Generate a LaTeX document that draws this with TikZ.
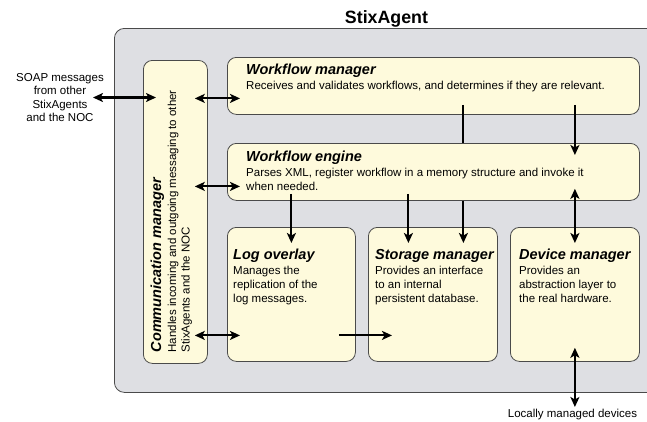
\documentclass[tikz,border=0pt]{standalone}
\usepackage{fontspec}
\setmainfont{Liberation Sans}
\usepackage{xcolor}
\usetikzlibrary{arrows.meta,calc,positioning}
\definecolor{fondgris}{HTML}{DEDFE3}
\definecolor{fondjaune}{HTML}{FEFADC}
\definecolor{bord}{HTML}{4A4A4A}

\begin{document}
\begin{tikzpicture}[x=1pt,y=-1pt]
% Styles
\tikzstyle{cadre}=[draw=bord,fill=fondgris,rounded corners=10pt,line width=0.8pt,anchor=north west,inner sep=0]
\tikzstyle{boite}=[draw=bord,fill=fondjaune,rounded corners=9pt,line width=0.8pt,anchor=north west,inner sep=0]
\tikzstyle{titre}=[anchor=base west,inner sep=0,font=\fontsize{14.5}{16}\selectfont\bfseries\itshape]
\tikzstyle{texte}=[anchor=north west,inner sep=0,align=left,font=\fontsize{11.5}{13.7}\selectfont]
\tikzstyle{fleche}=[-{Stealth[length=10pt,width=9pt,inset=2.5pt]},line width=2.1pt]
\tikzstyle{dfleche}=[{Stealth[length=10pt,width=9pt,inset=2.5pt]}-{Stealth[length=10pt,width=9pt,inset=2.5pt]},line width=2.1pt]
\tikzstyle{trait}=[line width=2.1pt]
% Cadre
\useasboundingbox (0,0) rectangle (647,421);
\clip (0,0) rectangle (647,421);
\node[anchor=base,inner sep=0,font=\fontsize{17.8}{20}\selectfont\bfseries] (nom) at (386.5,23) {StixAgent};
\node[cadre,minimum width=560pt,minimum height=364pt] (agent) at (114,28) {};
% Boites
\node[boite,minimum width=64pt,minimum height=303pt] (comm) at (143,60) {};
\node[boite,minimum width=412pt,minimum height=57pt] (wfm) at (227,57) {};
\node[boite,minimum width=412pt,minimum height=57pt] (wfe) at (227,143) {};
\node[boite,minimum width=128pt,minimum height=134pt] (log) at (227,227) {};
\node[boite,minimum width=129pt,minimum height=134pt] (sto) at (368,227) {};
\node[boite,minimum width=129pt,minimum height=134pt] (dev) at (510,227) {};
% Textes
\node[titre] (wfmT) at ($(wfm.north west)+(19,17)$) {Workflow manager};
\node[texte] (wfmB) at ($(wfmT.base west)+(0,6.5)$) {Receives and validates workflows, and determines if they are relevant.};
\node[titre] (wfeT) at ($(wfe.north west)+(19,18.5)$) {Workflow engine};
\node[texte] (wfeB) at ($(wfeT.base west)+(0,6.5)$) {Parses XML, register workflow in a memory structure and invoke it\\when needed.};
\node[titre] (logT) at ($(log.north west)+(6,32.3)$) {Log overlay};
\node[texte] (logB) at ($(logT.base west)+(0,7)$) {Manages the\\replication of the\\log messages.};
\node[titre] (stoT) at ($(sto.north west)+(7,32.3)$) {Storage manager};
\node[texte] (stoB) at ($(stoT.base west)+(0,7)$) {Provides an interface\\to an internal\\persistent database.};
\node[titre] (devT) at ($(dev.north west)+(9,32.3)$) {Device manager};
\node[texte] (devB) at ($(devT.base west)+(0,7)$) {Provides an\\abstraction layer to\\the real hardware.};
\node[titre,rotate=90] (commT) at ($(comm.south west)+(18,-11.3)$) {Communication manager};
\node[texte,rotate=90] (commB) at ($(commT.base west)+(6.5,0)$) {Handles incoming and outgoing messaging to other\\StixAgents and the NOC};
\node[inner sep=0,align=center,font=\fontsize{11.5}{13.6}\selectfont] (soap) at (60,97.5) {SOAP messages\\from other\\StixAgents\\and the NOC};
\node[anchor=base,inner sep=0,font=\fontsize{11.5}{13.6}\selectfont] (locaux) at (572.5,417.5) {Locally managed devices};
% Fleches
\draw[dfleche] ([xshift=-11pt]soap.east) -- ($(comm.west |- soap.east)+(13,0)$);
\draw[dfleche] ($(comm.east |- wfm.west)+(-13,12.5)$) -- ($(wfm.west)+(13,12.5)$);
\draw[dfleche] ($(comm.east |- wfe.west)+(-13,14.5)$) -- ($(wfe.west)+(13,14.5)$);
\draw[dfleche] ($(comm.east |- log.west)+(-13,41)$) -- ($(log.west)+(13,41)$);
\draw[fleche] ($(log.east)+(-17,41)$) -- ($(sto.west)+(24,41)$);
\draw[trait] ($(wfm.south)+(30,-10)$) -- ($(wfe.north)+(30,0)$);
\draw[fleche] ($(wfe.south)+(30,0)$) -- ($(sto.north)+(30.5,16)$);
\draw[fleche] ($(wfe.south -| sto.north)+(-24.5,-7)$) -- ($(sto.north)+(-24.5,16)$);
\draw[fleche] ($(wfe.south -| log.north)+(0,-7)$) -- ($(log.north)+(0,16)$);
\draw[fleche] ($(wfm.south -| dev.north)+(0,-10)$) -- ($(wfe.north -| dev.north)+(0,12)$);
\draw[dfleche] ($(wfe.south -| dev.north)+(0,-12)$) -- ($(dev.north)+(0,16)$);
\draw[dfleche] ($(dev.south)+(0,-14)$) -- ($(dev.south |- locaux.north)+(0,-2)$);
\end{tikzpicture}
\end{document}
